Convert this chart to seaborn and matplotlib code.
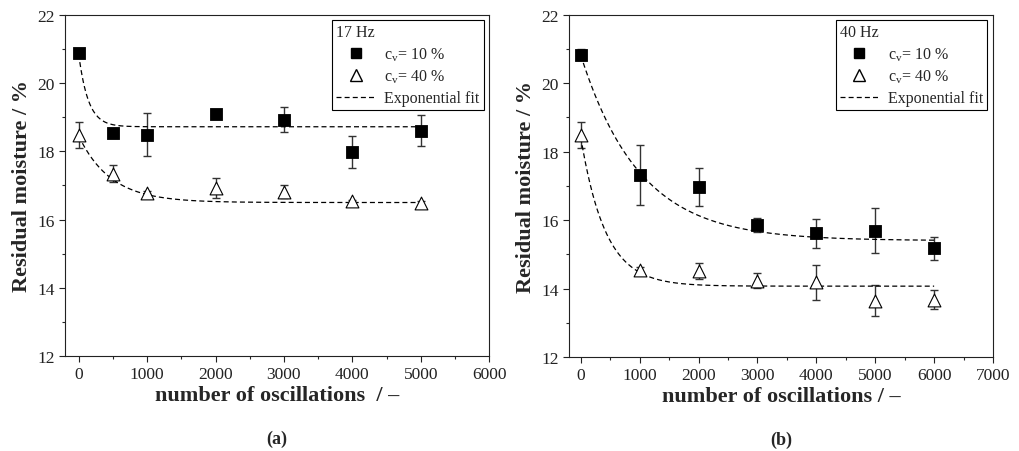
import numpy as np
import pandas as pd
import matplotlib
matplotlib.use("Agg")
import matplotlib.pyplot as plt
import seaborn as sns
from matplotlib.lines import Line2D

# panel (a) 17 Hz
osc_a = [0, 500, 1000, 2000, 3000, 4000, 5000]
cv10_a = [20.87, 18.55, 18.49, 19.09, 18.93, 17.97, 18.61]
cv10_a_err = [0.12, 0.08, 0.64, 0.08, 0.37, 0.47, 0.44]
cv40_a = [18.47, 17.34, 16.79, 16.93, 16.82, 16.53, 16.48]
cv40_a_err = [0.38, 0.25, 0.05, 0.30, 0.19, 0.05, 0.05]
# exponential fit parameters y = y0 + A*exp(-x/t)
fit10_a = [18.72, 2.13, 140]
fit40_a = [16.50, 1.95, 470]

# panel (b) 40 Hz
osc_b = [0, 1000, 2000, 3000, 4000, 5000, 6000]
cv10_b = [20.84, 17.32, 16.96, 15.85, 15.61, 15.69, 15.18]
cv10_b_err = [0.17, 0.87, 0.56, 0.20, 0.42, 0.66, 0.34]
cv40_b = [18.48, 14.54, 14.51, 14.23, 14.18, 13.65, 13.68]
cv40_b_err = [0.38, 0.10, 0.24, 0.21, 0.51, 0.45, 0.29]
fit10_b = [15.40, 5.42, 1000]
fit40_b = [14.07, 4.35, 420]

sns.set_style("ticks")
plt.rcParams['font.family'] = ['Liberation Serif', 'DejaVu Serif']
plt.rcParams['mathtext.fontset'] = 'custom'
plt.rcParams['mathtext.rm'] = 'Liberation Serif'

fig = plt.figure(figsize=(10.19, 4.52), dpi=100)
ax_a = fig.add_axes([0.0638, 0.21, 0.4162, 0.755])
ax_b = fig.add_axes([0.5584, 0.208, 0.4161, 0.757])


def draw_panel(ax, osc, y10, e10, y40, e40, f10, f40, freq, xmax, xlab, tag):
    ec = '#333333'
    ax.errorbar(osc, y10, yerr=e10, fmt='none', ecolor=ec, elinewidth=1, capsize=3, capthick=1, zorder=2)
    ax.errorbar(osc, y40, yerr=e40, fmt='none', ecolor=ec, elinewidth=1, capsize=3, capthick=1, zorder=2)
    xs = np.linspace(0, max(osc), 300)
    for p in (f10, f40):
        fit = pd.DataFrame({'x': xs, 'y': p[0] + p[1] * np.exp(-xs / p[2])})
        sns.lineplot(data=fit, x='x', y='y', ax=ax, color='black', lw=0.9,
                     linestyle=(0, (4, 2.5)), zorder=3)
    df10 = pd.DataFrame({'x': osc, 'y': y10})
    df40 = pd.DataFrame({'x': osc, 'y': y40})
    sns.scatterplot(data=df10, x='x', y='y', ax=ax, marker='s', s=64, color='black',
                    edgecolor='black', linewidth=0.6, zorder=4)
    sns.scatterplot(data=df40, x='x', y='y', ax=ax, marker='^', s=85, facecolor='white',
                    edgecolor='black', linewidth=0.8, zorder=4)

    ax.set_xlim(-200, xmax)
    ax.set_ylim(12, 22)
    ax.set_xticks(np.arange(0, xmax + 1, 1000))
    ax.set_xticks(np.arange(500, xmax, 1000), minor=True)
    ax.set_yticks([12, 14, 16, 18, 20, 22])
    ax.set_yticks([13, 15, 17, 19, 21], minor=True)
    ax.tick_params(axis='both', which='major', direction='out', length=4, width=0.8, labelsize=12.5, colors='#222222')
    ax.tick_params(axis='both', which='minor', direction='out', length=2.5, width=0.8)
    for s in ax.spines.values():
        s.set_visible(True)
        s.set_linewidth(0.8)
        s.set_color('#222222')
    ax.set_xlabel(xlab, fontsize=16, fontweight='bold', labelpad=2)
    ax.set_ylabel('Residual moisture / %', fontsize=16, fontweight='bold', labelpad=4)
    ax.text(0.5, -0.215, tag, transform=ax.transAxes, ha='center', va='top',
            fontsize=13, fontweight='bold')

    handles = [
        Line2D([], [], marker='s', color='black', linestyle='none', markersize=7.5),
        Line2D([], [], marker='^', markerfacecolor='white', markeredgecolor='black',
               linestyle='none', markersize=8.5),
        Line2D([], [], color='black', lw=0.9, linestyle=(0, (4, 2.5))),
    ]
    labels = ['c$_\\mathrm{v}$= 10 %', 'c$_\\mathrm{v}$= 40 %', 'Exponential fit']
    leg = ax.legend(handles, labels, title=freq, loc='upper right', fontsize=11.5,
                    title_fontsize=11.5, frameon=True, fancybox=False, edgecolor='black',
                    framealpha=1, borderaxespad=0.35, handlelength=2.4, handletextpad=0.6,
                    labelspacing=0.3, borderpad=0.25)
    leg._legend_box.align = 'left'
    leg.get_frame().set_linewidth(0.8)


draw_panel(ax_a, osc_a, cv10_a, cv10_a_err, cv40_a, cv40_a_err, fit10_a, fit40_a,
           '17 Hz', 6000, 'number of oscillations  / \u2013', '(a)')
draw_panel(ax_b, osc_b, cv10_b, cv10_b_err, cv40_b, cv40_b_err, fit10_b, fit40_b,
           '40 Hz', 7000, 'number of oscillations / \u2013', '(b)')

fig.savefig('out.png', dpi=100)
